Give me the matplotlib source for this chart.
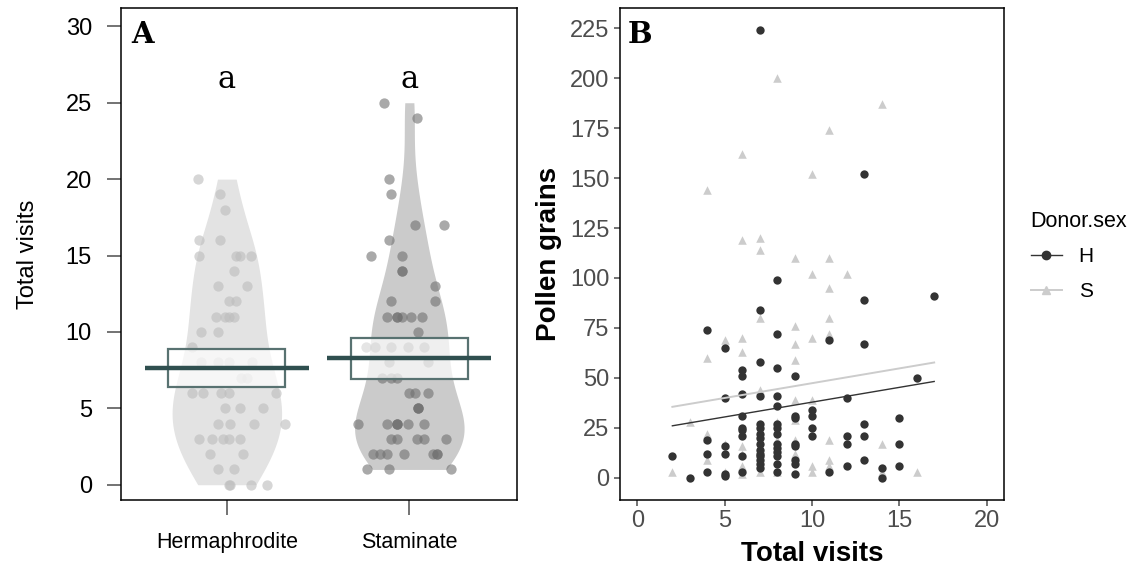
import matplotlib
matplotlib.use('Agg')
import matplotlib.pyplot as plt
from matplotlib.lines import Line2D
import numpy as np

plt.rcParams.update({
    'font.family': ['Liberation Sans', 'DejaVu Sans'],
    'axes.linewidth': 1.1,
})

# ---- panel A: total visits per flower type ----
groups = ['Hermaphrodite', 'Staminate']
letters = ['a', 'a']

herm_visits = [20, 19, 18, 16, 16, 15, 15, 15, 15, 14, 13, 13, 12, 12, 11, 11, 11, 11,
               10, 10, 9, 8, 8, 8, 8, 7, 7, 6, 6, 6, 6, 6, 5, 5, 5, 4, 4, 4, 4,
               3, 3, 3, 3, 3, 2, 2, 1, 1, 0, 0, 0, 0]
herm_jitter = [-0.16, -0.04, -0.01, -0.15, -0.04, -0.15, 0.05, 0.07, 0.13, 0.04, -0.05, 0.11,
               0.01, 0.05, -0.06, -0.01, 0.01, 0.04, -0.14, -0.05, -0.19, -0.14, -0.05, 0.01,
               0.14, 0.08, 0.11, -0.19, -0.13, -0.03, 0.01, 0.27, -0.01, 0.07, 0.20, -0.05,
               0.02, 0.15, 0.32, -0.15, -0.08, -0.02, 0.01, 0.07, -0.09, 0.09, -0.05, 0.04,
               0.01, 0.02, 0.13, 0.22]

stam_visits = [25, 24, 20, 19, 17, 17, 16, 15, 15, 14, 14, 13, 12, 12, 11, 11, 11, 11, 11, 11,
               10, 9, 9, 9, 9, 9, 8, 8, 7, 7, 7, 6, 6, 6, 5, 5, 5, 4, 4, 4, 4, 4, 4, 4,
               3, 3, 3, 3, 3, 2, 2, 2, 2, 2, 2, 2, 1, 1, 1]
stam_jitter = [-0.14, 0.04, -0.11, -0.10, 0.03, 0.19, -0.11, -0.21, -0.04, -0.04, -0.04, 0.14,
               -0.10, 0.14, -0.12, -0.07, -0.07, -0.04, 0.01, 0.07, 0.05, -0.24, -0.19, -0.10,
               -0.01, 0.08, -0.11, 0.10, -0.15, -0.10, -0.07, 0.00, 0.03, 0.10, 0.05, 0.05,
               0.05, -0.28, -0.12, -0.07, -0.07, -0.07, -0.01, 0.08, -0.10, -0.07, 0.04, 0.08,
               0.20, -0.20, -0.16, -0.12, -0.03, 0.13, 0.15, 0.15, -0.23, -0.11, 0.23]

group_mean = [7.64, 8.27]
group_lo = [6.37, 6.92]
group_hi = [8.86, 9.61]

# ---- panel B: pollen grains vs total visits ----
H_visits = [7, 13, 8, 13, 17, 7, 4, 8, 11, 13, 5, 7, 8, 6, 6, 9, 16, 5, 6, 7, 8, 12, 8, 10,
            9, 9, 10, 6, 15, 7, 13, 7, 6, 10, 6, 7, 7, 8, 10, 12, 13, 4, 5, 9, 7, 7, 8, 8,
            8, 8, 12, 15, 2, 4, 5, 6, 9, 9, 7, 7, 7, 8, 13, 12, 14, 15, 4, 5, 5, 3, 6, 8,
            9, 11, 14, 7, 8, 8, 9, 7, 6]
H_pollen = [224, 152, 99, 89, 91, 84, 74, 72, 69, 67, 65, 58, 55, 54, 51, 51, 50, 40, 42, 41,
            41, 40, 36, 34, 31, 30, 31, 31, 30, 27, 27, 25, 25, 25, 21, 22, 20, 22, 21, 21,
            21, 19, 16, 17, 17, 14, 17, 15, 13, 11, 17, 17, 11, 12, 12, 11, 9, 7, 9, 7, 5, 7,
            9, 6, 5, 6, 3, 2, 1, 0, 3, 3, 2, 3, 0, 11, 25, 27, 16, 12, 24]

S_visits = [8, 14, 11, 6, 10, 4, 6, 7, 7, 9, 11, 10, 12, 11, 7, 9, 10, 5, 6, 9, 6, 4, 9, 11,
            11, 7, 9, 10, 3, 8, 9, 4, 4, 5, 9, 6, 6, 9, 4, 6, 10, 2, 6, 7, 10, 11, 11, 11,
            14, 14, 16, 8, 5, 8]
S_pollen = [200, 187, 174, 162, 152, 144, 119, 120, 114, 110, 110, 102, 102, 95, 80, 76, 70,
            69, 70, 67, 63, 60, 59, 80, 72, 44, 39, 39, 28, 28, 29, 22, 20, 17, 19, 16, 12,
            12, 9, 6, 6, 3, 2, 3, 3, 19, 9, 6, 17, 3, 3, 3, 3, 19]

fit_intercept = {'H': 23.0, 'S': 32.5}
fit_slope = {'H': 1.48, 'S': 1.48}

C_HV, C_SV = '#E3E3E3', '#CBCBCB'
C_HP, C_SP = '#bcbcbc', '#707070'
C_BOX, C_MEAN = '#587271', '#2F4F4F'
C_H, C_S = '#333333', '#CCCCCC'
C_TICK = '#4D4D4D'


def violin(ax, vals, pos, color, half=0.3):
    v = np.asarray(vals, float)
    n = len(v)
    sd = v.std(ddof=1)
    iqr = np.subtract(*np.percentile(v, [75, 25]))
    bw = 0.9 * min(sd, iqr / 1.34) * n ** -0.2
    grid = np.linspace(v.min(), v.max(), 512)
    dens = np.exp(-0.5 * ((grid[:, None] - v[None, :]) / bw) ** 2).sum(1)
    w = dens / dens.max() * half
    ax.fill_betweenx(grid, pos - w, pos + w, color=color, lw=0, zorder=1)


fig = plt.figure(figsize=(11.48, 5.67), dpi=100)
W, H = 1148, 567
axA = fig.add_axes([121 / W, 1 - 500 / H, (517 - 121) / W, (500 - 8) / H])
axB = fig.add_axes([620 / W, 1 - 500 / H, (1004 - 620) / W, (500 - 8) / H])

# ==== A ====
data = [(herm_visits, herm_jitter, C_HV, C_HP), (stam_visits, stam_jitter, C_SV, C_SP)]
for i, (vals, jit, cv, cp) in enumerate(data):
    pos = i + 1
    violin(axA, vals, pos, cv)
    axA.scatter(pos + np.asarray(jit), vals, s=55, color=cp, alpha=0.6, lw=0, zorder=2)
    axA.add_patch(plt.Rectangle((pos - 0.32, group_lo[i]), 0.64, group_hi[i] - group_lo[i],
                                facecolor='white', alpha=0.7, edgecolor='none', zorder=3))
    axA.add_patch(plt.Rectangle((pos - 0.32, group_lo[i]), 0.64, group_hi[i] - group_lo[i],
                                facecolor='none', edgecolor=C_BOX, lw=1.6, zorder=4))
    axA.plot([pos - 0.45, pos + 0.45], [group_mean[i]] * 2, color=C_MEAN, lw=3.2,
             solid_capstyle='butt', zorder=5)
    axA.text(pos, 26.5, letters[i], ha='center', va='center', fontsize=22,
             family='DejaVu Serif')

axA.set_xlim(0.42, 2.59)
axA.set_ylim(-1.0, 31.2)
axA.set_xticks([1, 2])
axA.set_xticklabels(groups, fontsize=15.5)
axA.set_yticks(range(0, 31, 5))
axA.tick_params(axis='y', labelsize=17, length=10, width=1.1, pad=11, colors='black',
                color=C_TICK)
axA.tick_params(axis='x', length=11, width=1.1, pad=12, color=C_TICK)
axA.set_ylabel('Total visits', fontsize=17, labelpad=19)
axA.text(0.025, 0.975, 'A', transform=axA.transAxes, ha='left', va='top', fontsize=21,
         fontweight='bold', family='DejaVu Serif')

# ==== B ====
axB.scatter(H_visits, H_pollen, s=36, color=C_H, marker='o', lw=0, zorder=3)
axB.scatter(S_visits, S_pollen, s=38, color=C_S, marker='^', lw=0, zorder=2)
for key, xs, col, lw in [('H', H_visits, C_H, 1.0), ('S', S_visits, C_S, 1.4)]:
    xx = np.array([min(xs), max(xs + H_visits)])
    axB.plot(xx, fit_intercept[key] + fit_slope[key] * xx, color=col, lw=lw, zorder=4)

axB.set_xlim(-1, 21)
axB.set_ylim(-11.2, 235.2)
axB.set_xticks(range(0, 21, 5))
axB.set_yticks(range(0, 226, 25))
axB.tick_params(labelsize=17, length=4, width=1.1, labelcolor=C_TICK, color=C_TICK)
axB.set_xlabel('Total visits', fontsize=20, fontweight='bold', labelpad=6)
axB.set_ylabel('Pollen grains', fontsize=20, fontweight='bold', labelpad=6)
axB.text(0.02, 0.975, 'B', transform=axB.transAxes, ha='left', va='top', fontsize=21,
         fontweight='bold', family='DejaVu Serif')

handles = [Line2D([0], [0], color=C_H, marker='o', markersize=6, lw=1.0),
           Line2D([0], [0], color=C_S, marker='^', markersize=6, lw=1.4)]
fig.legend(handles, ['H', 'S'], title='Donor.sex', loc='upper left',
           bbox_to_anchor=(1012 / W, 1 - 192 / H), frameon=False, fontsize=15,
           title_fontsize=15.5, alignment='left', handlelength=1.5, handletextpad=0.8,
           labelspacing=0.75)

fig.savefig('out.png', dpi=100, facecolor='white')
